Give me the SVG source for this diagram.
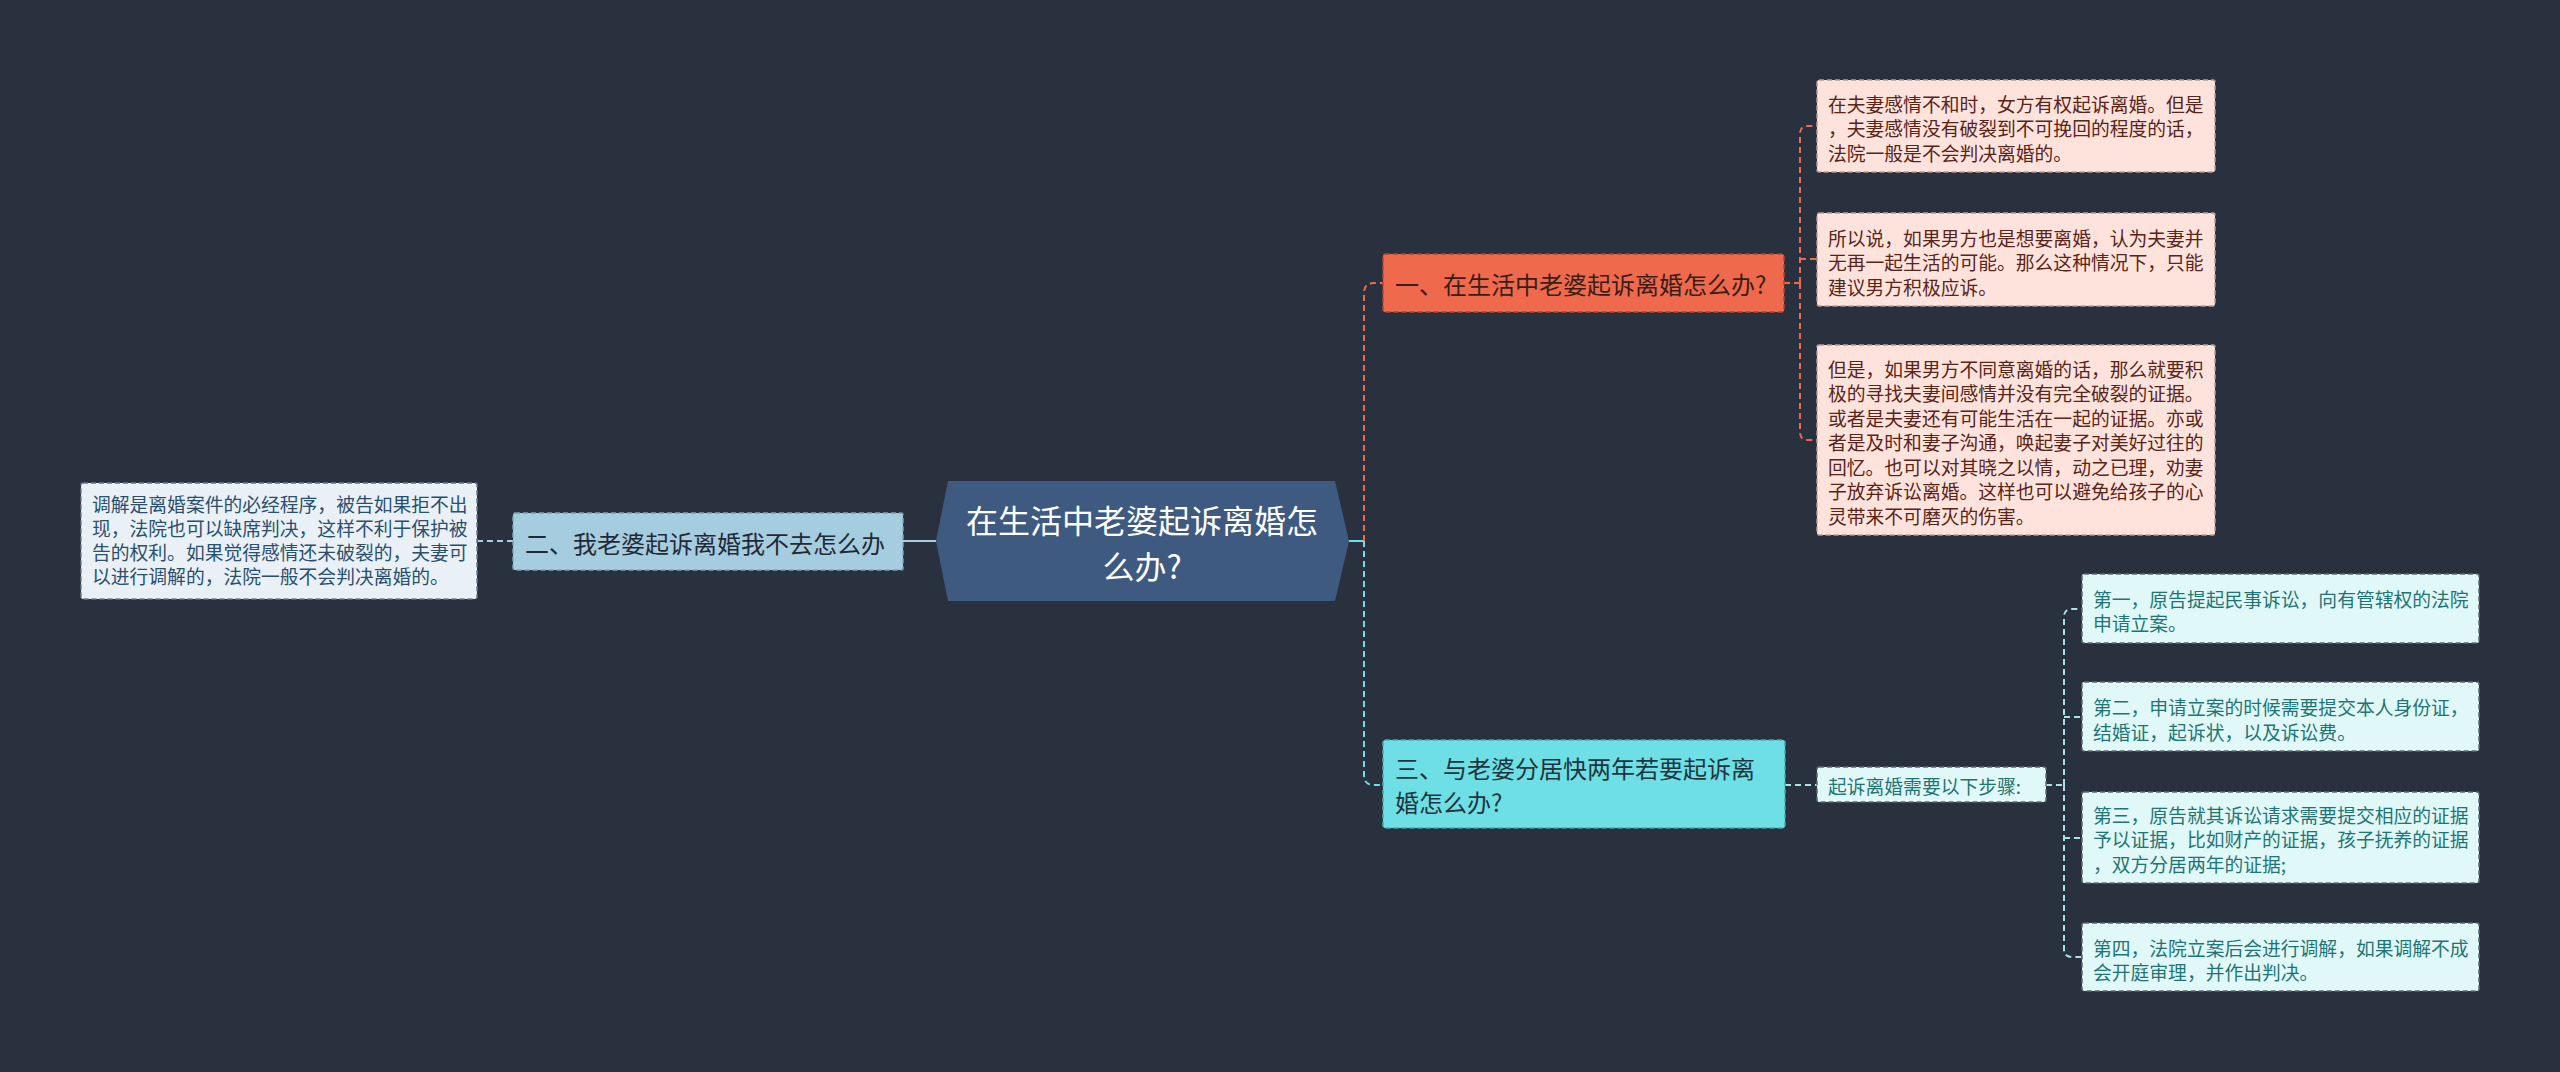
<svg xmlns="http://www.w3.org/2000/svg" width="2560" height="1072" viewBox="0 0 2560 1072">
<style>
text{font-family:"Noto Sans CJK SC","Noto Sans",sans-serif;dominant-baseline:central}
.c{fill:none;stroke-width:2}
.dash{stroke-dasharray:6 4}
.leafp{fill:#fde3dc;stroke:#b89a94;stroke-width:1.5;stroke-dasharray:5 3}
.leafp-t{fill:#5a2418;font-size:18.8px}
.leafc{fill:#e0f8f8;stroke:#5d6b70;stroke-width:1.5;stroke-dasharray:5 3}
.leafc-t{fill:#1f7575;font-size:18.8px}
.leafb{fill:#e9f1f7;stroke:#6b7a86;stroke-width:1.5;stroke-dasharray:5 3}
.leafb-t{fill:#2a4f70;font-size:18.8px}
</style>
<rect width="2560" height="1072" fill="#29313f"/>
<g id="connectors">
<path class="c" d="M936,541 H903" stroke="#a6cce0"/>
<path class="c dash" d="M513,541 H478" stroke="#a6cce0"/>
<path class="c" d="M1349,541 H1364" stroke="#6ddfe5"/>
<path class="c dash" d="M1364,541 V293 Q1364,283 1374,283 H1383" stroke="#ef6a4c"/>
<path class="c dash" d="M1364,541 V775 Q1364,785 1374,785 H1383" stroke="#6ddfe5"/>
<path class="c dash" d="M1784,283 H1800" stroke="#ef6a4c"/>
<path class="c dash" d="M1800,283 V134 Q1800,126 1808,126 H1817" stroke="#ef6a4c"/>
<path class="c dash" d="M1800,259 H1817" stroke="#ef6a4c"/>
<path class="c dash" d="M1800,283 V432 Q1800,440 1808,440 H1817" stroke="#ef6a4c"/>
<path class="c dash" d="M1785,785 H1817" stroke="#a8e2e6"/>
<path class="c dash" d="M2046,785 H2064" stroke="#a8e2e6"/>
<path class="c dash" d="M2064,785 V617 Q2064,609 2072,609 H2082" stroke="#a8e2e6"/>
<path class="c dash" d="M2064,717 H2082" stroke="#a8e2e6"/>
<path class="c dash" d="M2064,785 V949 Q2064,957 2072,957 H2082" stroke="#a8e2e6"/>
<path class="c dash" d="M2064,838 H2082" stroke="#a8e2e6"/>
</g>
<g id="center">
<polygon points="948,481 1335,481 1349,541 1335,601 948,601 936,541" fill="#3e5a80"/>
<text x="1142" y="519" font-size="32" fill="#ffffff" text-anchor="middle">在生活中老婆起诉离婚怎</text>
<text x="1142" y="565" font-size="32" fill="#ffffff" text-anchor="middle">么办?</text>
</g>
<g id="node1">
<rect x="1383" y="254" width="401" height="58" rx="2" fill="#ef6a4c" stroke="#b5432d" stroke-width="1.5" stroke-dasharray="5 3"/>
<text x="1395" y="283" font-size="24" fill="#3a1d17">一、在生活中老婆起诉离婚怎么办?</text>
</g>
<g id="node2">
<rect x="513" y="513" width="390" height="57" rx="2" fill="#a6cce0" stroke="#7ea3b8" stroke-width="1.5" stroke-dasharray="5 3"/>
<text x="525" y="542" font-size="24" fill="#1f2a36">二、我老婆起诉离婚我不去怎么办</text>
</g>
<g id="node3">
<rect x="1383" y="740" width="402" height="88" rx="2" fill="#6ddfe5" stroke="#4aa8ae" stroke-width="1.5" stroke-dasharray="5 3"/>
<text x="1395" y="767" font-size="24" fill="#1d3540">三、与老婆分居快两年若要起诉离</text>
<text x="1395" y="801" font-size="24" fill="#1d3540">婚怎么办?</text>
</g>
<g id="leaf-left">
<rect class="leafb" x="81" y="483" width="396" height="116" rx="2"/>
<text class="leafb-t" x="92" y="503">调解是离婚案件的必经程序，被告如果拒不出</text>
<text class="leafb-t" x="92" y="527">现，法院也可以缺席判决，这样不利于保护被</text>
<text class="leafb-t" x="92" y="551">告的权利。如果觉得感情还未破裂的，夫妻可</text>
<text class="leafb-t" x="92" y="575">以进行调解的，法院一般不会判决离婚的。</text>
</g>
<g id="leaf1">
<rect class="leafp" x="1817" y="80" width="398" height="92" rx="2"/>
<text class="leafp-t" x="1828" y="103">在夫妻感情不和时，女方有权起诉离婚。但是</text>
<text class="leafp-t" x="1828" y="127">，夫妻感情没有破裂到不可挽回的程度的话，</text>
<text class="leafp-t" x="1828" y="152">法院一般是不会判决离婚的。</text>
</g>
<g id="leaf2">
<rect class="leafp" x="1817" y="213" width="398" height="93" rx="2"/>
<text class="leafp-t" x="1828" y="237">所以说，如果男方也是想要离婚，认为夫妻并</text>
<text class="leafp-t" x="1828" y="261">无再一起生活的可能。那么这种情况下，只能</text>
<text class="leafp-t" x="1828" y="286">建议男方积极应诉。</text>
</g>
<g id="leaf3">
<rect class="leafp" x="1817" y="345" width="398" height="190" rx="2"/>
<text class="leafp-t" x="1828" y="368">但是，如果男方不同意离婚的话，那么就要积</text>
<text class="leafp-t" x="1828" y="392">极的寻找夫妻间感情并没有完全破裂的证据。</text>
<text class="leafp-t" x="1828" y="417">或者是夫妻还有可能生活在一起的证据。亦或</text>
<text class="leafp-t" x="1828" y="441">者是及时和妻子沟通，唤起妻子对美好过往的</text>
<text class="leafp-t" x="1828" y="466">回忆。也可以对其晓之以情，动之已理，劝妻</text>
<text class="leafp-t" x="1828" y="490">子放弃诉讼离婚。这样也可以避免给孩子的心</text>
<text class="leafp-t" x="1828" y="515">灵带来不可磨灭的伤害。</text>
</g>
<g id="steps-head">
<rect class="leafc" x="1817" y="767" width="229" height="35" rx="2"/>
<text class="leafc-t" x="1828" y="785">起诉离婚需要以下步骤:</text>
</g>
<g id="step1">
<rect class="leafc" x="2082" y="574" width="397" height="69" rx="2"/>
<text class="leafc-t" x="2093" y="598">第一，原告提起民事诉讼，向有管辖权的法院</text>
<text class="leafc-t" x="2093" y="622">申请立案。</text>
</g>
<g id="step2">
<rect class="leafc" x="2082" y="682" width="397" height="69" rx="2"/>
<text class="leafc-t" x="2093" y="706">第二，申请立案的时候需要提交本人身份证，</text>
<text class="leafc-t" x="2093" y="731">结婚证，起诉状，以及诉讼费。</text>
</g>
<g id="step3">
<rect class="leafc" x="2082" y="792" width="397" height="91" rx="2"/>
<text class="leafc-t" x="2093" y="814">第三，原告就其诉讼请求需要提交相应的证据</text>
<text class="leafc-t" x="2093" y="838">予以证据，比如财产的证据，孩子抚养的证据</text>
<text class="leafc-t" x="2093" y="863">，双方分居两年的证据;</text>
</g>
<g id="step4">
<rect class="leafc" x="2082" y="923" width="397" height="68" rx="2"/>
<text class="leafc-t" x="2093" y="947">第四，法院立案后会进行调解，如果调解不成</text>
<text class="leafc-t" x="2093" y="971">会开庭审理，并作出判决。</text>
</g>
</svg>
